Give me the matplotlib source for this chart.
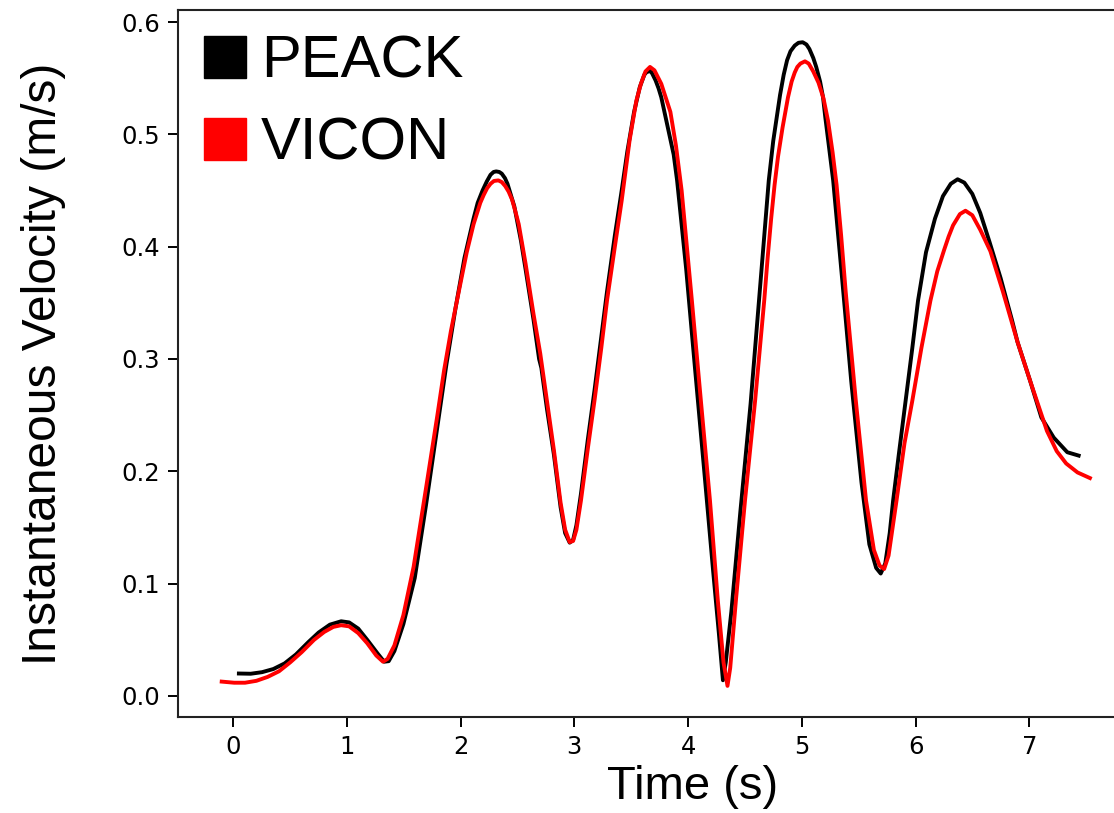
import matplotlib
matplotlib.use("Agg")
import matplotlib.pyplot as plt
from matplotlib.lines import Line2D

# VICON (red)
vicon_t = [-0.10, 0.01, 0.105, 0.205, 0.304, 0.404, 0.503, 0.603, 0.712, 0.801,
           0.881, 0.950, 1.020, 1.100, 1.179, 1.259, 1.318, 1.358, 1.418, 1.497,
           1.587, 1.696, 1.796, 1.855, 1.915, 1.994, 2.054, 2.114, 2.173, 2.203,
           2.233, 2.263, 2.293, 2.332, 2.362, 2.392, 2.422, 2.452, 2.480, 2.511,
           2.571, 2.641, 2.700, 2.760, 2.820, 2.879, 2.919, 2.959, 2.989, 3.018,
           3.058, 3.118, 3.177, 3.237, 3.287, 3.356, 3.416, 3.486, 3.545, 3.585,
           3.625, 3.665, 3.704, 3.764, 3.844, 3.893, 3.943, 4.033, 4.112, 4.192,
           4.261, 4.311, 4.346, 4.370, 4.420, 4.500, 4.589, 4.669, 4.699, 4.730,
           4.760, 4.790, 4.830, 4.878, 4.910, 4.937, 4.960, 4.987, 5.027, 5.060,
           5.100, 5.146, 5.190, 5.230, 5.270, 5.305, 5.345, 5.385, 5.474, 5.564,
           5.633, 5.683, 5.723, 5.762, 5.832, 5.902, 5.971, 6.051, 6.130, 6.190,
           6.250, 6.290, 6.329, 6.389, 6.438, 6.498, 6.568, 6.657, 6.767, 6.896,
           7.005, 7.154, 7.240, 7.323, 7.423, 7.532]
vicon_v = [0.0128, 0.0118, 0.0118, 0.0135, 0.0170, 0.0220, 0.0300, 0.0390, 0.0500, 0.0570,
           0.0615, 0.0630, 0.0620, 0.0560, 0.0470, 0.0360, 0.0305, 0.0330, 0.0450, 0.0720,
           0.1150, 0.1850, 0.2500, 0.2900, 0.3250, 0.3650, 0.3950, 0.4200, 0.4390, 0.4460,
           0.4520, 0.4560, 0.4585, 0.4590, 0.4575, 0.4540, 0.4490, 0.4420, 0.4320, 0.4200,
           0.3850, 0.3400, 0.3050, 0.2620, 0.2190, 0.1720, 0.1480, 0.1370, 0.1380, 0.1480,
           0.1740, 0.2200, 0.2630, 0.3100, 0.3520, 0.4000, 0.4410, 0.4950, 0.5300, 0.5450,
           0.5560, 0.5600, 0.5570, 0.5450, 0.5200, 0.4900, 0.4500, 0.3520, 0.2630, 0.1740,
           0.0850, 0.0300, 0.0090, 0.0250, 0.0850, 0.1740, 0.2630, 0.3520, 0.3900, 0.4250,
           0.4550, 0.4800, 0.5060, 0.5330, 0.5470, 0.5550, 0.5600, 0.5630, 0.5650, 0.5630,
           0.5560, 0.5460, 0.5320, 0.5120, 0.4840, 0.4550, 0.4100, 0.3600, 0.2630, 0.1740,
           0.1300, 0.1160, 0.1130, 0.1250, 0.1740, 0.2250, 0.2630, 0.3100, 0.3520, 0.3780,
           0.3970, 0.4090, 0.4190, 0.4290, 0.4320, 0.4280, 0.4150, 0.3960, 0.3600, 0.3150,
           0.2810, 0.2360, 0.2180, 0.2070, 0.1990, 0.1940]

# PEACK (black)
peack_t = [0.051, 0.155, 0.255, 0.354, 0.453, 0.553, 0.662, 0.752, 0.851, 0.950,
           1.020, 1.100, 1.179, 1.269, 1.328, 1.368, 1.418, 1.497, 1.597, 1.696,
           1.796, 1.875, 1.955, 2.034, 2.114, 2.150, 2.193, 2.230, 2.263, 2.290,
           2.313, 2.340, 2.362, 2.390, 2.412, 2.472, 2.531, 2.571, 2.641, 2.690,
           2.710, 2.760, 2.820, 2.879, 2.919, 2.959, 2.989, 3.018, 3.058, 3.118,
           3.177, 3.237, 3.287, 3.356, 3.416, 3.466, 3.525, 3.575, 3.615, 3.635,
           3.655, 3.670, 3.685, 3.714, 3.740, 3.764, 3.824, 3.873, 3.903, 3.983,
           4.062, 4.142, 4.221, 4.271, 4.306, 4.331, 4.380, 4.460, 4.549, 4.629,
           4.669, 4.709, 4.748, 4.808, 4.840, 4.870, 4.900, 4.937, 4.970, 5.007,
           5.040, 5.066, 5.100, 5.126, 5.160, 5.186, 5.206, 5.275, 5.355, 5.434,
           5.524, 5.593, 5.653, 5.693, 5.733, 5.772, 5.802, 5.852, 5.912, 5.971,
           6.021, 6.091, 6.170, 6.240, 6.309, 6.369, 6.428, 6.498, 6.568, 6.647,
           6.747, 6.846, 6.896, 7.005, 7.105, 7.214, 7.333, 7.433]
peack_v = [0.0200, 0.0198, 0.0212, 0.0240, 0.0290, 0.0370, 0.0480, 0.0565, 0.0635, 0.0665,
           0.0655, 0.0600, 0.0500, 0.0380, 0.0305, 0.0310, 0.0400, 0.0640, 0.1050, 0.1700,
           0.2400, 0.2950, 0.3450, 0.3900, 0.4250, 0.4390, 0.4500, 0.4580, 0.4640, 0.4665,
           0.4670, 0.4665, 0.4650, 0.4610, 0.4560, 0.4360, 0.4050, 0.3800, 0.3350, 0.3000,
           0.2920, 0.2550, 0.2150, 0.1680, 0.1450, 0.1365, 0.1390, 0.1520, 0.1800, 0.2280,
           0.2720, 0.3200, 0.3600, 0.4100, 0.4500, 0.4850, 0.5200, 0.5420, 0.5530, 0.5555,
           0.5560, 0.5565, 0.5540, 0.5480, 0.5410, 0.5330, 0.5050, 0.4820, 0.4590, 0.3800,
           0.2900, 0.2000, 0.1100, 0.0550, 0.0140, 0.0300, 0.0750, 0.1650, 0.2600, 0.3600,
           0.4100, 0.4590, 0.4940, 0.5350, 0.5530, 0.5660, 0.5740, 0.5790, 0.5815, 0.5820,
           0.5800, 0.5760, 0.5680, 0.5600, 0.5470, 0.5330, 0.5150, 0.4590, 0.3700, 0.2800,
           0.1900, 0.1350, 0.1140, 0.1090, 0.1180, 0.1450, 0.1740, 0.2150, 0.2630, 0.3100,
           0.3520, 0.3950, 0.4250, 0.4450, 0.4560, 0.4600, 0.4570, 0.4470, 0.4300, 0.4050,
           0.3720, 0.3350, 0.3150, 0.2810, 0.2480, 0.2300, 0.2170, 0.2140]

x_ticks = [0, 1, 2, 3, 4, 5, 6, 7]
y_ticks = [0.0, 0.1, 0.2, 0.3, 0.4, 0.5, 0.6]

label_font = "Liberation Sans"

fig = plt.figure(figsize=(11.14, 8.13), dpi=100)
ax = fig.add_axes([0.1598, 0.1181, 0.8577, 0.8696])

ax.plot(peack_t, peack_v, color="black", lw=2.8, solid_joinstyle="round")
ax.plot(vicon_t, vicon_v, color="red", lw=2.8, solid_joinstyle="round")

ax.set_xlim(-0.484, 7.915)
ax.set_ylim(-0.0187, 0.6107)
ax.set_xticks(x_ticks)
ax.set_yticks(y_ticks)
ax.set_yticklabels([f"{v:.1f}" for v in y_ticks])

ax.tick_params(labelsize=17.5, length=7, width=1.4, pad=6, colors="black")
for s in ax.spines.values():
    s.set_linewidth(1.5)
    s.set_color("#222222")

ax.set_xlabel("Time (s)", fontsize=34, family=label_font, labelpad=4)
ax.xaxis.label.set_x(0.538)
ax.set_ylabel("Instantaneous Velocity (m/s)", fontsize=34.5, family=label_font, labelpad=40)

handles = [
    Line2D([], [], ls="none", marker="s", ms=30, color="black", label="PEACK"),
    Line2D([], [], ls="none", marker="s", ms=30, color="red", label="VICON"),
]
ax.legend(handles=handles, loc="upper left", bbox_to_anchor=(0.0055, 0.9735),
          frameon=False, prop={"family": label_font, "size": 43},
          handlelength=1.2, handletextpad=0.0, borderaxespad=0.0,
          borderpad=0.1, labelspacing=0.45)

fig.savefig("out.png", dpi=100)
